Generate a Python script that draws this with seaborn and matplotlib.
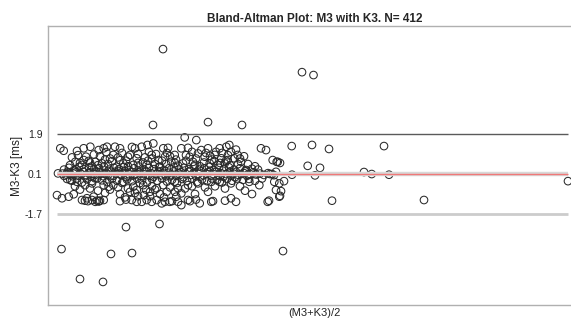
# -*- coding: utf-8 -*-
"""
Bland-Altman plot of M3 against K3 (values read off the reference figure)
"""

#%% Packages
import numpy as np
import pandas as pd
import seaborn as sns
import matplotlib.pyplot as plt

#%% Data  (x = (M3+K3)/2, arbitrary units ; y = M3-K3 in ms)
n_beats = 412
mean_diff = 0.1
loa_up = 1.9
loa_low = -1.7
ytick_labels = ["1.9", "0.1", "-1.7"]

# dense band around the mean difference
band_core = [(62.5, 0.12), (66, 0.08), (68.5, 0.15), (71, 0.05), (73.5, 0.12), (76, 0.18),
             (78.5, 0.02), (81, 0.1), (83.5, 0.2), (86, 0.06), (88.5, 0.14), (91, -0.02),
             (93.5, 0.1), (96, 0.22), (98.5, 0.04), (101, 0.12), (103.5, 0.0), (106, 0.16),
             (108.5, 0.08), (111, 0.2), (113.5, 0.02), (116, 0.12), (118.5, 0.24), (121, 0.06),
             (123.5, 0.14), (126, -0.04), (128.5, 0.1), (131, 0.2), (133.5, 0.04), (136, 0.12),
             (138.5, 0.18), (141, 0.0), (143.5, 0.1), (146, 0.22), (148.5, 0.06), (151, 0.14),
             (153.5, -0.02), (156, 0.1), (158.5, 0.2), (161, 0.04), (163.5, 0.12), (166, 0.0),
             (168.5, 0.16), (171, 0.08), (173.5, 0.22), (176, 0.02), (178.5, 0.12), (181, 0.18),
             (183.5, -0.04), (186, 0.1), (188.5, 0.2), (191, 0.06), (193.5, 0.14), (196, 0.0),
             (198.5, 0.1), (201, 0.22), (203.5, 0.04), (206, 0.12), (208.5, 0.18), (211, 0.02),
             (213.5, 0.1), (216, 0.2), (218.5, 0.06), (221, 0.14), (223.5, -0.02), (226, 0.1),
             (228.5, 0.16), (231, 0.04), (233.5, 0.12), (236, 0.2), (238.5, 0.06), (241, 0.1),
             (244, 0.14), (247, 0.02), (250, 0.1), (253, 0.18), (256, 0.08), (260, 0.12),
             (264, 0.06), (268, 0.14), (272, 0.1), (58, 0.13)]
band_extra = [(64, 0.02), (67.5, 0.2), (70, 0.1), (72.5, 0.0), (75, 0.25), (80, 0.14), (85, 0.0),
              (90, 0.18), (95, 0.08), (100, 0.2), (105, 0.1), (110, 0.0), (115, 0.2), (120, 0.1),
              (125, 0.22), (130, 0.0), (135, 0.08), (140, 0.22), (150, 0.02), (160, 0.22),
              (170, 0.0), (180, 0.06), (190, 0.24), (200, -0.02), (210, 0.24), (220, 0.0),
              (230, 0.22), (235, -0.04), (245, 0.22), (248, 0.08)]
band_upper = [(64, 0.3), (69, 0.38), (74, 0.28), (79, 0.42), (84, 0.32), (89, 0.4), (94, 0.3),
              (99, 0.36), (104, 0.44), (109, 0.3), (114, 0.38), (119, 0.32), (124, 0.42),
              (129, 0.28), (134, 0.36), (139, 0.44), (144, 0.3), (149, 0.38), (154, 0.32),
              (159, 0.42), (164, 0.28), (169, 0.36), (174, 0.4), (179, 0.3), (184, 0.38),
              (189, 0.32), (194, 0.44), (199, 0.3), (204, 0.36), (209, 0.42), (214, 0.28),
              (219, 0.38), (224, 0.32), (229, 0.4), (234, 0.3), (240, 0.36), (246, 0.28),
              (252, 0.34), (258, 0.3)]
band_lower = [(67, -0.12), (72, -0.2), (77, -0.1), (82, -0.28), (87, -0.14), (92, -0.22),
              (97, -0.1), (102, -0.18), (107, -0.26), (112, -0.12), (117, -0.2), (122, -0.3),
              (127, -0.14), (132, -0.22), (137, -0.1), (142, -0.18), (147, -0.28), (152, -0.12),
              (157, -0.2), (162, -0.1), (167, -0.24), (172, -0.16), (177, -0.3), (182, -0.12),
              (187, -0.2), (192, -0.1), (197, -0.26), (202, -0.14), (207, -0.22), (212, -0.1),
              (217, -0.18), (222, -0.28), (227, -0.12), (232, -0.2), (237, -0.1), (243, -0.16),
              (249, -0.12), (255, -0.2), (262, -0.1)]

# scatter above the band (inside the limits of agreement)
above = [(60.3, 1.26), (63.7, 1.15), (77, 1.14), (83.7, 1.26), (90.3, 1.33), (98.7, 1.18),
         (103.7, 1.26), (107, 1.33), (75.3, 0.65), (83.7, 0.73), (88.7, 0.69), (82, 0.51),
         (95.3, 0.65), (102, 0.58), (106.3, 1.09), (115, 1.33), (120, 1.26), (132, 1.32),
         (135, 1.26), (141.7, 1.33), (147.5, 1.41), (153.3, 1.48), (163.3, 1.26), (168, 1.28),
         (113.3, 0.96), (130, 0.96), (136.7, 0.81), (151.7, 0.96), (158.3, 0.73), (165, 0.88),
         (123.3, 0.58), (133.3, 0.51), (146.7, 0.51), (160, 0.43), (116.7, 0.43),
         (184.7, 1.75), (196.3, 1.63), (181.3, 1.26), (188, 1.28), (201.3, 1.18), (208, 1.26),
         (219.7, 1.26), (226.3, 1.33), (174.7, 0.96), (189.7, 0.88), (198, 1.03), (204.7, 0.88),
         (214.7, 0.96), (221.3, 0.81), (171.3, 0.65), (183, 0.58), (193, 0.65), (209.7, 0.58),
         (218, 0.51), (224.7, 0.58), (261, 1.26), (266, 1.18), (229.3, 1.41), (231, 1.10),
         (237.7, 0.96), (227.7, 0.73), (234.3, 0.81), (241, 0.65), (272.7, 0.73), (277.7, 0.65),
         (70, 0.5), (92, 0.45), (105, 0.75), (126, 0.7), (143, 0.62), (155, 0.55), (170, 0.9),
         (178, 0.48), (200, 0.45), (212, 0.75), (230, 0.5), (248, 0.55), (255, 0.45), (244, 0.9)]
above_extra = [(72, 0.85), (78, 0.95), (86, 0.88), (94, 0.98), (100, 0.9), (110, 0.8),
               (118, 0.85), (122, 1.05), (128, 0.88), (138, 1.0), (145, 0.85), (149, 1.1),
               (156, 1.0), (162, 0.7), (167, 1.05), (176, 0.75), (186, 0.95), (192, 1.1),
               (196, 0.8), (206, 1.05), (210, 0.92), (216, 1.1), (222, 1.05), (228, 0.95),
               (236, 1.2), (240, 0.8), (80, 0.6), (90, 0.62), (98, 0.5), (108, 0.55),
               (112, 0.68), (120, 0.72), (128, 0.45), (138, 0.6), (148, 0.7), (152, 0.8),
               (166, 0.55), (175, 0.6), (186, 0.7), (195, 0.52), (204, 0.62), (214, 0.68),
               (220, 0.6), (226, 0.7), (238, 0.55)]

# scatter below the band
below = [(57, -0.85), (62, -0.99), (68.7, -0.92), (73.7, -0.81), (82, -1.07), (87, -0.99),
         (92, -1.07), (95.3, -1.15), (98.7, -1.12), (103.7, -1.07), (93.7, -0.92), (92, -0.32),
         (103.7, -0.4), (108.7, -0.47), (95, -0.09), (70.3, -0.17), (77, -0.25), (97, -1.1),
         (100, -1.1), (99, -1.13), (113.3, -0.4), (123.3, -0.25), (133.3, -0.47), (136.7, -0.62),
         (143.3, -0.4), (150, -0.7), (156.7, -0.54), (163.3, -0.4), (166.7, -0.7), (131.7, -1.07),
         (136.7, -1.15), (141.7, -1.15), (146.7, -1.07), (151.7, -1.15), (156.7, -1.07),
         (161.7, -1.22), (165, -1.15), (128, -0.55), (135, -0.75), (144, -0.85), (150, -0.9),
         (155, -0.6), (140, -0.3), (174.7, -0.25), (188, -0.4), (198, -0.32), (211.3, -0.25),
         (219.7, -0.25), (178, -0.54), (181.3, -0.77), (176.3, -0.92), (169.7, -1.15),
         (178, -1.15), (181.3, -1.3), (188, -1.07), (199.7, -1.22), (211.3, -1.15), (213, -1.12),
         (231, -0.32), (249.3, -0.25), (259.3, -0.4), (274.3, -0.25), (279.3, -0.32),
         (276, -0.62), (279.3, -0.92), (231, -0.99), (236, -1.15), (267.7, -1.15)]
below_extra = [(75, -0.45), (80, -0.6), (85, -0.4), (90, -0.55), (98, -0.65), (105, -0.75),
               (110, -0.6), (118, -0.5), (120, -0.8), (125, -0.95), (130, -0.7), (138, -0.9),
               (146, -0.6), (152, -0.45), (160, -0.8), (164, -0.95), (170, -0.5), (175, -0.7),
               (185, -0.55), (192, -0.45), (195, -0.8), (205, -0.5), (208, -0.7), (215, -0.45),
               (225, -0.55), (240, -0.45), (245, -0.65), (252, -0.8), (85, -1.1), (88, -1.12),
               (120, -1.12), (126, -1.05), (172, -1.12), (190, -1.12), (196, -1.05), (225, -1.1)]

# sparse points on the right
right_side = [(291.7, 1.36), (312, 1.41), (329, 1.23), (384, 1.36), (307.7, 0.47), (320, 0.38),
              (364, 0.19), (371.7, 0.1), (389, 0.07), (315, 0.04), (292, 0.07), (332, -1.1),
              (269, -1.1), (280, -0.88), (281, -0.67), (284, -0.22), (276.7, 0.65), (280, 0.6),
              (276, 0.2), (274, 0.05), (270, 0.1), (424, -1.07), (568, -0.22)]

# outside the limits of agreement
outliers = [(163, 5.73), (302, 4.69), (313.5, 4.56), (153, 2.31), (208, 2.44), (242, 2.31),
            (61.5, -3.28), (80, -4.63), (103, -4.76), (111, -3.5), (132, -3.46), (126, -2.29),
            (159.5, -2.15), (283, -3.37)]

#%% Gather
groups = [band_core, band_extra, band_upper, band_lower, above, above_extra,
          below, below_extra, right_side, outliers]
pts = [p for g in groups for p in g]
df = pd.DataFrame(pts, columns=["avg", "diff"])

#%% Plot
sns.set_style("white")
plt.rcParams['font.family'] = ['Liberation Sans', 'DejaVu Sans']

fig = plt.figure(figsize=(5.71, 3.2), dpi=100)
ax = fig.add_axes([48 / 571, 15 / 320, 533 / 571, 279 / 320])

sns.scatterplot(data=df, x="avg", y="diff", ax=ax, s=30, marker="o",
                facecolors="none", edgecolor="#2a2a2a", linewidth=0.75, zorder=2)

x0, x1 = df["avg"].min(), df["avg"].max()
ax.hlines(loa_up, x0, x1, color="#5a5a5a", lw=1.0, zorder=3)
ax.hlines(mean_diff, x0, x1, color="#d8d8d8", lw=3.2, zorder=3)
ax.hlines(mean_diff, x0, x1, color="#f07878", lw=1.0, zorder=4)
ax.hlines(loa_low, x0, x1, color="#cccccc", lw=2.0, zorder=3)

ax.set_xlim(48, 581)
ax.set_ylim(-5.8, 6.77)
ax.set_xticks([])
ax.set_yticks([loa_up, mean_diff, loa_low])
ax.set_yticklabels(ytick_labels)
ax.tick_params(axis="y", direction="out", length=3, width=0.8, color="#777777",
               labelsize=7.5, pad=1, labelcolor="#222222")
for side in ["left", "bottom", "top", "right"]:
    ax.spines[side].set_color("#b0b0b0")
    ax.spines[side].set_linewidth(1.0)

ax.set_xlabel("(M3+K3)/2", fontsize=8, labelpad=2, color="#222222")
ax.set_ylabel("M3-K3 [ms]", fontsize=8.5, labelpad=1, color="#222222")
ax.set_title(f"Bland-Altman Plot: M3 with K3. N= {n_beats}", fontsize=8.5,
             fontweight="bold", pad=3)

fig.savefig("out.png", dpi=100)
print("Saved out.png with", len(df), "points")
